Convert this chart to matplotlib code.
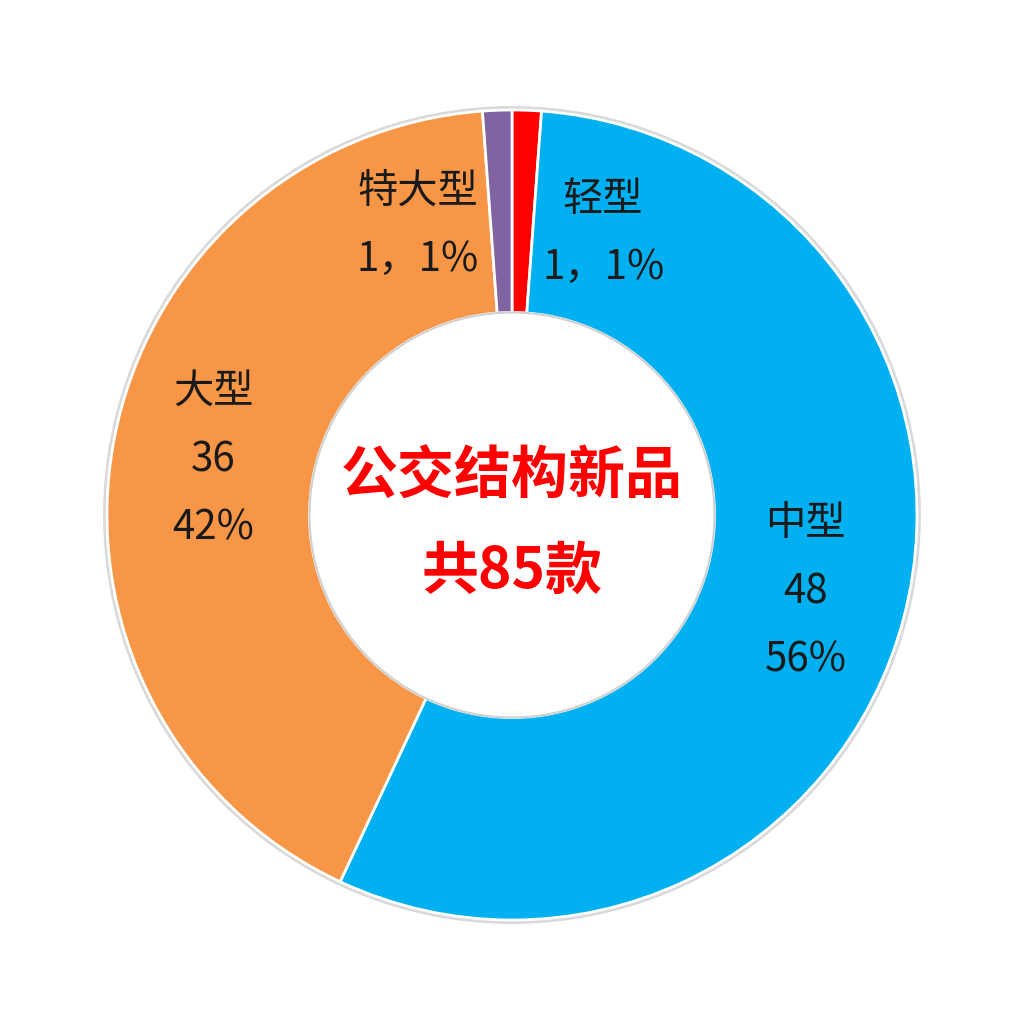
import numpy as np
import matplotlib.pyplot as plt
from matplotlib.patches import Circle

plt.rcParams['font.family'] = ['Noto Sans CJK SC', 'DejaVu Sans']

names = ['轻型', '中型', '大型', '特大型']
counts = [1, 48, 36, 1]
colors = ['#ff0000', '#00b0f0', '#f79646', '#8064a2']
center_title = '公交结构新品\n共85款'

W, H = 1024, 1027
cx, cy, R = 512, 515, 405  # pixel centre and outer radius

fig = plt.figure(figsize=(W / 100, H / 100), dpi=100)
ax = fig.add_axes([0, 0, 1, 1])

# faint shadow ring
ax.add_patch(Circle((0, 0), 1.008, color='#d9d9d9', zorder=0))

wedges, _ = ax.pie(counts, colors=colors, startangle=90, counterclock=False,
                   radius=1.0, wedgeprops=dict(width=0.5, edgecolor='white', linewidth=2),
                   )
ax.add_patch(Circle((0, 0), 0.5, facecolor='white', edgecolor='#d0d0d0', lw=1.5, zorder=3))

# pie() resets the limits, so set them afterwards
ax.set_xlim(-cx / R, (W - cx) / R)
ax.set_ylim(-(H - cy) / R, cy / R)
ax.set_aspect('equal')
ax.axis('off')

total = sum(counts)
# small slices get their labels moved aside
offsets = {0: (0.225, 0.696), 3: (-0.232, 0.716)}
for i, w in enumerate(wedges):
    pct = round(counts[i] / total * 100)
    mid = np.deg2rad((w.theta1 + w.theta2) / 2)
    if i in offsets:
        x, y = offsets[i]
        txt = f'{names[i]}\n{counts[i]}，{pct}%'
    else:
        x, y = 0.75 * np.cos(mid), 0.75 * np.sin(mid)
        txt = f'{names[i]}\n{counts[i]}\n{pct}%'
    ax.text(x, y, txt, ha='center', va='center', fontsize=29,
            color='#1a1a1a', linespacing=1.85, zorder=4)

ax.text(0, -0.022, center_title, ha='center', va='center', fontsize=41,
        fontweight='bold', color='#ff0000', linespacing=1.8, zorder=4)

fig.savefig('out.png', dpi=100, facecolor='white')
